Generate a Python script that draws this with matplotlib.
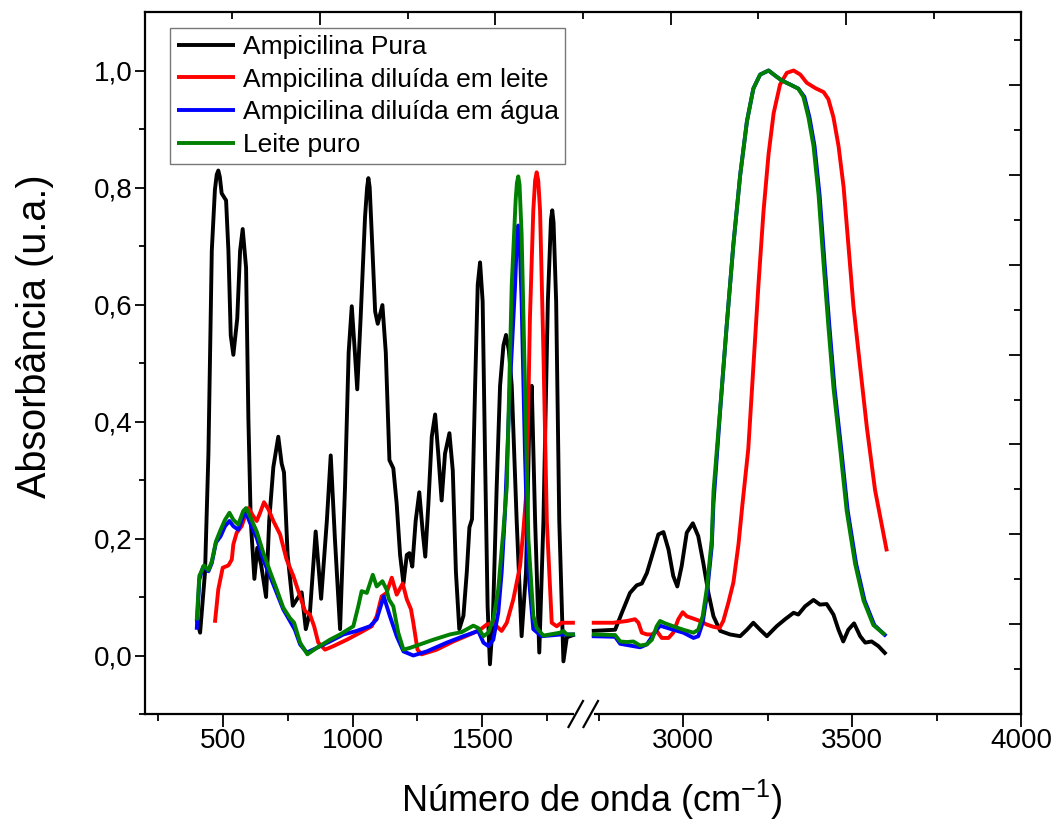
import numpy as np
import matplotlib
matplotlib.use('Agg')
import matplotlib.pyplot as plt
from matplotlib.lines import Line2D
from matplotlib.patches import Rectangle
from matplotlib.ticker import FixedLocator, FixedFormatter

plt.rcParams['font.family'] = ['Liberation Sans', 'DejaVu Sans']
plt.rcParams['mathtext.fontset'] = 'custom'
plt.rcParams['mathtext.rm'] = 'Liberation Sans'
plt.rcParams['mathtext.it'] = 'Liberation Sans:italic'
plt.rcParams['mathtext.default'] = 'regular'

# ---------------- data (wavenumber cm-1, absorbance) ----------------
labels = ["Ampicilina Pura", "Ampicilina diluída em leite",
          "Ampicilina diluída em água", "Leite puro"]
colors = ["#000000", "#FF0000", "#0000FF", "#008000"]

black_lx = [400, 413, 432, 445, 458, 470, 477, 483, 489, 496, 513, 522, 531, 541, 556, 567, 577, 590, 599, 608,
            622, 633, 648, 667, 679, 695, 714, 727, 736, 750, 770, 787, 804, 820, 836, 858, 879, 901,
            916, 932, 952, 971, 985, 997, 1009, 1018, 1031, 1048, 1056, 1061, 1066, 1074, 1087, 1097, 1115, 1128,
            1142, 1157, 1170, 1183, 1196, 1209, 1219, 1230, 1243, 1257, 1270, 1280, 1292, 1305, 1318,
            1330, 1343, 1356, 1373, 1386, 1398, 1411, 1427, 1440, 1450, 1460, 1472, 1482, 1491, 1501,
            1510, 1520, 1529, 1540, 1555, 1568, 1581, 1591, 1602, 1613, 1632, 1651, 1668, 1681, 1690,
            1703, 1719, 1735, 1752, 1764, 1769, 1774, 1784, 1796, 1812, 1825, 1856]
black_ly = [.062, .039, .143, .345, .692, .796, .822, .829, .818, .790, .778, .692, .547, .514, .576, .692, .729, .663,
            .403, .230, .131, .184, .155, .100, .230, .322, .374, .328, .313, .172, .085, .097, .108, .045,
            .074, .212, .097, .230, .342, .200, .045, .288, .518, .597, .518, .455, .576, .749, .800, .816, .800, .720,
            .588, .567, .599, .518, .334, .320, .259, .172, .123, .172, .175, .152, .230, .279, .212, .169,
            .259, .374, .412, .345, .265, .345, .380, .316, .143, .045, .068, .143, .219, .233, .461, .634,
            .672, .605, .345, .085, -.015, .056, .288, .461, .530, .548, .521, .461, .230, .033, .143, .403,
            .461, .230, .005, .230, .605, .745, .761, .740, .605, .230, -.010, .031, .036]
black_rx = [2729, 2798, 2818, 2842, 2862, 2877, 2892, 2907, 2926, 2941, 2956, 2970, 2982, 2995, 3010,
            3028, 3044, 3059, 3074, 3089, 3109, 3138, 3168, 3188, 3207, 3227, 3247, 3276, 3301, 3326,
            3340, 3360, 3385, 3404, 3424, 3444, 3459, 3473, 3488, 3505, 3523, 3538, 3557, 3577, 3600]
black_ry = [.042, .044, .073, .107, .120, .123, .141, .170, .207, .211, .181, .136, .118, .153, .210,
            .226, .204, .158, .107, .067, .042, .036, .033, .044, .056, .044, .033, .050, .062, .073,
            .070, .084, .095, .087, .088, .070, .044, .024, .044, .055, .033, .022, .024, .016, .002]

red_lx = [470, 483, 500, 522, 535, 541, 554, 573, 586, 599, 618, 631, 644, 659, 676, 695, 721, 746, 772,
          798, 817, 836, 852, 868, 894, 926, 978, 1029, 1074, 1093, 1112, 1131, 1151, 1170, 1193, 1209,
          1225, 1234, 1250, 1266, 1324, 1388, 1452, 1491, 1517, 1542, 1555, 1574, 1594, 1619, 1645, 1658,
          1671, 1683, 1696, 1703, 1709, 1715, 1722, 1735, 1748, 1767, 1786, 1805, 1856]
red_ly = [.056, .113, .150, .154, .164, .190, .210, .221, .238, .252, .238, .230, .244, .262, .250, .230,
          .207, .164, .136, .101, .076, .070, .050, .022, .010, .016, .027, .039, .050, .067, .101, .107,
          .133, .104, .123, .096, .079, .056, .010, .002, .010, .024, .036, .044, .053, .056, .050, .042,
          .056, .096, .153, .215, .288, .576, .761, .812, .826, .812, .761, .518, .230, .056, .050, .056, .056]
red_rx = [2729, 2793, 2833, 2857, 2867, 2877, 2892, 2907, 2921, 2936, 2956, 2970, 2985, 2998, 3010, 3030,
          3049, 3069, 3089, 3107, 3118, 3133, 3148, 3163, 3175, 3192, 3207, 3222, 3237, 3252, 3267, 3286,
          3306, 3326, 3346, 3365, 3390, 3415, 3429, 3444, 3459, 3474, 3488, 3503, 3523, 3543, 3567, 3602]
red_ry = [.056, .056, .059, .062, .056, .039, .036, .036, .042, .030, .030, .039, .062, .074, .067, .063,
          .059, .053, .049, .047, .059, .090, .125, .190, .260, .353, .493, .633, .759, .857, .927, .976,
          .996, 1.000, .993, .979, .970, .963, .951, .920, .871, .801, .703, .598, .493, .389, .283, .178]

blue_lx = [400, 410, 425, 445, 458, 474, 492, 509, 526, 541, 560, 579, 590, 605, 631, 656, 682, 708, 733,
           759, 778, 798, 824, 862, 913, 965, 1016, 1067, 1093, 1120, 1144, 1170, 1196, 1234, 1286, 1363,
           1427, 1484, 1504, 1523, 1542, 1561, 1574, 1587, 1606, 1626, 1633, 1638, 1643, 1651, 1664, 1677, 1696, 1728,
           1805, 1856]
blue_ly = [.044, .130, .152, .144, .158, .193, .204, .221, .230, .221, .215, .238, .244, .227, .201, .164,
           .136, .107, .079, .059, .044, .019, .005, .013, .024, .036, .042, .050, .062, .101, .067, .033,
           .007, .000, .007, .022, .033, .042, .022, .016, .027, .073, .141, .244, .461, .634, .715, .735, .715, .605,
           .345, .143, .045, .033, .036, .036]
blue_rx = [2729, 2798, 2813, 2872, 2892, 2921, 2931, 2970, 3000, 3030, 3044, 3057, 3069, 3084, 3089, 3109,
           3128, 3148, 3168, 3188, 3207, 3227, 3252, 3272, 3291, 3316, 3340, 3358, 3373, 3388, 3403, 3418,
           3432, 3447, 3467, 3486, 3511, 3536, 3565, 3600]
blue_ry = [.033, .032, .020, .014, .019, .044, .051, .044, .039, .030, .033, .056, .101, .187, .260, .420,
           .563, .703, .821, .913, .969, .993, 1.000, .991, .983, .976, .969, .955, .920, .871, .787, .668,
           .563, .458, .353, .248, .157, .094, .052, .033]

green_lx = [400, 410, 428, 445, 458, 474, 492, 509, 526, 541, 560, 579, 590, 605, 631, 656, 682, 708, 733,
            759, 775, 798, 826, 862, 913, 952, 1003, 1022, 1035, 1055, 1078, 1093, 1115, 1131, 1140, 1157,
            1176, 1196, 1221, 1260, 1311, 1375, 1420, 1465, 1484, 1504, 1523, 1542, 1561, 1581, 1594, 1613,
            1628, 1633, 1638, 1643, 1651, 1664, 1677, 1696, 1709, 1735, 1799, 1812, 1825, 1856]
green_ly = [.060, .136, .154, .146, .161, .195, .215, .232, .244, .232, .224, .247, .252, .238, .212, .176,
            .144, .113, .082, .064, .056, .022, .002, .013, .027, .036, .050, .084, .110, .107, .138, .118,
            .127, .113, .096, .084, .039, .010, .013, .019, .027, .036, .040, .051, .047, .033, .039, .062,
            .113, .215, .289, .634, .778, .808, .819, .805, .720, .461, .200, .068, .047, .034, .039, .042, .036, .036]
green_rx = [2729, 2798, 2813, 2833, 2852, 2872, 2892, 2907, 2921, 2931, 2946, 2970, 3000, 3030, 3044,
            3057, 3069, 3084, 3089, 3109, 3128, 3148, 3168, 3188, 3207, 3227, 3252, 3272, 3291, 3316,
            3340, 3355, 3370, 3385, 3400, 3415, 3429, 3444, 3464, 3483, 3508, 3533, 3562, 3597]
green_ry = [.036, .035, .024, .023, .024, .017, .019, .027, .050, .059, .055, .050, .044, .039, .044,
            .067, .113, .198, .280, .423, .563, .703, .821, .913, .969, .993, 1.000, .991, .983, .976,
            .969, .955, .920, .871, .787, .668, .563, .458, .353, .248, .157, .094, .052, .035]

x_major = [500, 1000, 1500, 3000, 3500, 4000]
x_major_labels = ["500", "1000", "1500", "3000", "3500", "4000"]
x_minor = [250, 750, 1250, 1750, 2750, 3250, 3750]
y_major = [0.0, 0.2, 0.4, 0.6, 0.8, 1.0]
y_major_labels = ["0,0", "0,2", "0,4", "0,6", "0,8", "1,0"]
y_minor = [-0.1, 0.1, 0.3, 0.5, 0.7, 0.9]

# ---------------- broken x scale (pixel-based piecewise linear) ----------------
W, H = 1063, 827
XA, PXA, SL = 500.0, 222.7, 0.2597
XB, PXB, SR = 3000.0, 683.3, 0.338
PBRK = 580.0
XL = XA + (PBRK - PXA) / SL
XR = XB + (PBRK - PXB) / SR
EPS = 1e-4
PM = PBRK + (XR - XL) * EPS


def fwd(x):
    x = np.asarray(x, dtype=float)
    left = PXA + (x - XA) * SL
    mid = PBRK + (x - XL) * EPS
    right = PM + (x - XR) * SR
    return np.where(x <= XL, left, np.where(x >= XR, right, mid))


def inv(p):
    p = np.asarray(p, dtype=float)
    left = XA + (p - PXA) / SL
    mid = XL + (p - PBRK) / EPS
    right = XR + (p - PM) / SR
    return np.where(p <= PBRK, left, np.where(p >= PM, right, mid))


XMIN, XMAX = 200, 4000
YMIN, YMAX = -0.1, 1.1
px_left = float(fwd(XMIN))
px_right = float(fwd(XMAX))
py_top, py_bot = 12.0, 714.0

fig = plt.figure(figsize=(W / 100, H / 100), dpi=100)
rect = [px_left / W, 1 - py_bot / H, (px_right - px_left) / W, (py_bot - py_top) / H]
ax = fig.add_axes(rect)
ax.set_xscale('function', functions=(fwd, inv))
ax.set_xlim(XMIN, XMAX)
ax.set_ylim(YMIN, YMAX)

lw = 2.8
series = [
    (black_lx, black_ly, black_rx, black_ry),
    (red_lx, red_ly, red_rx, red_ry),
    (blue_lx, blue_ly, blue_rx, blue_ry),
    (green_lx, green_ly, green_rx, green_ry),
]
handles = []
for (lx, ly, rx, ry), c, lab in zip(series, colors, labels):
    h, = ax.plot(lx, ly, color=c, lw=lw, label=lab, solid_joinstyle='round', solid_capstyle='butt')
    ax.plot(rx, ry, color=c, lw=lw, solid_joinstyle='round', solid_capstyle='butt')
    handles.append(h)

# ticks
ax.xaxis.set_major_locator(FixedLocator(x_major))
ax.xaxis.set_major_formatter(FixedFormatter(x_major_labels))
ax.xaxis.set_minor_locator(FixedLocator(x_minor))
ax.yaxis.set_major_locator(FixedLocator(y_major))
ax.yaxis.set_major_formatter(FixedFormatter(y_major_labels))
ax.yaxis.set_minor_locator(FixedLocator(y_minor))
ax.tick_params(which='both', direction='out', width=1.3, labelsize=20, top=False, right=False)
ax.tick_params(axis='x', which='major', length=9, pad=1)
ax.tick_params(axis='x', which='minor', length=5)
ax.tick_params(axis='y', which='major', length=7, pad=1.5)
ax.tick_params(axis='y', which='minor', length=4)
for s in ax.spines.values():
    s.set_linewidth(1.6)

# overlay axes for the top / right decorative ticks
ov = fig.add_axes(rect, frameon=False)
ov.patch.set_visible(False)
ov.set_xlim(0, 1)
ov.set_ylim(0, 1)
ov.xaxis.tick_top()
ov.yaxis.tick_right()
ov.set_xticks([0.2, 0.4, 0.6, 0.8])
ov.set_xticks([0.1, 0.3, 0.5, 0.7, 0.9], minor=True)
ov.set_yticks([0.128 * i for i in range(1, 8)])
ov.set_yticks([0.064 + 0.128 * i for i in range(0, 8)], minor=True)
ov.tick_params(which='both', direction='in', width=1.3, labeltop=False, labelright=False,
               labelbottom=False, labelleft=False, bottom=False, left=False)
ov.tick_params(which='major', length=9)
ov.tick_params(which='minor', length=5)

# axis break marks on the bottom axis
def fxy(px, py):
    return px / W, 1 - py / H

x0, y0 = fxy(574, 718)
x1, y1 = fxy(594, 710)
fig.add_artist(Rectangle((x0, y0), x1 - x0, y1 - y0, transform=fig.transFigure,
                         facecolor='white', edgecolor='none', zorder=10))
for sx in (568.5, 583.5):
    a = fxy(sx, 727)
    b = fxy(sx + 14.5, 701)
    fig.add_artist(Line2D([a[0], b[0]], [a[1], b[1]], transform=fig.transFigure,
                          color='black', lw=1.6, zorder=11))

# labels
fig.text(*fxy(35, 336), "Absorbância (u.a.)", rotation=90, ha='center', va='center', fontsize=28.5)
fig.text(*fxy(592, 800), "Número de onda (cm$^{-1}$)", ha='center', va='center', fontsize=26)

leg = ax.legend(handles, labels, loc='upper left', bbox_to_anchor=fxy(170, 28.3),
                bbox_transform=fig.transFigure, frameon=True, fancybox=False, fontsize=19,
                handlelength=2.2, handletextpad=0.3, labelspacing=0.33, borderpad=0.25,
                borderaxespad=0)
leg.get_frame().set_edgecolor('#555555')
leg.get_frame().set_linewidth(1.0)

fig.savefig('out.png', dpi=100)
